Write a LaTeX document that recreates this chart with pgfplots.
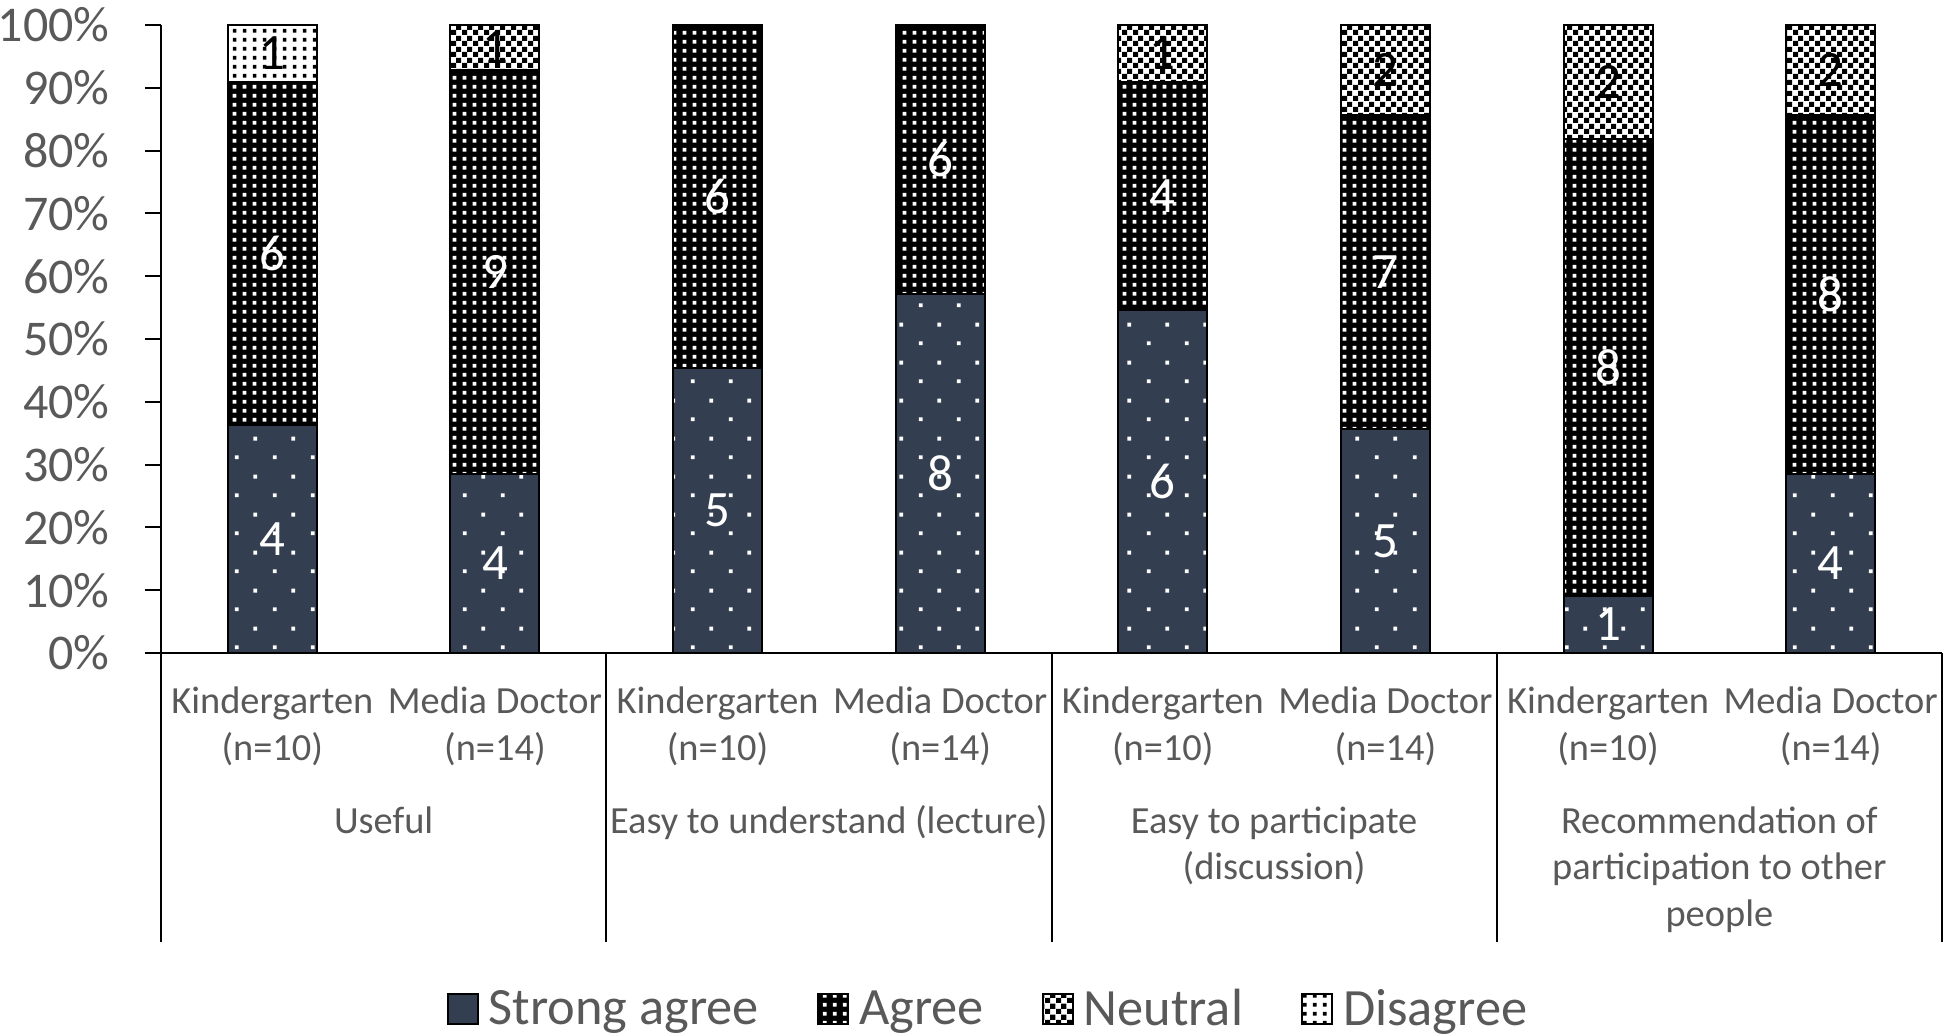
\documentclass[border=0pt]{standalone}
\usepackage{pgfplots}
\pgfplotsset{compat=1.18}
\usepackage{fontspec}
\setmainfont{Carlito}
\usetikzlibrary{patterns.meta}
\definecolor{navy}{HTML}{333F50}
\definecolor{txt}{HTML}{595959}

\tikzdeclarepattern{
  name=sadots, type=uncolored,
  bounding box={(0bp,0bp) and (19bp,19bp)},
  tile size={(19bp,19bp)},
  code={
    \pgfpathrectangle{\pgfpoint{3.5bp}{3.5bp}}{\pgfpoint{2bp}{2bp}}
    \pgfpathrectangle{\pgfpoint{13bp}{13bp}}{\pgfpoint{2bp}{2bp}}
    \pgfusepath{fill}
  }
}
\tikzdeclarepattern{
  name=griddots, type=uncolored,
  bounding box={(0bp,0bp) and (5bp,4.6bp)},
  tile size={(5bp,4.6bp)},
  code={
    \pgfpathrectangle{\pgfpoint{1.5bp}{1.3bp}}{\pgfpoint{2bp}{2bp}}
    \pgfusepath{fill}
  }
}
\tikzdeclarepattern{
  name=checker, type=uncolored,
  bounding box={(0bp,0bp) and (5.5bp,5.5bp)},
  tile size={(5.5bp,5.5bp)},
  code={
    \pgfpathrectangle{\pgfpoint{0bp}{0bp}}{\pgfpoint{2.75bp}{2.75bp}}
    \pgfpathrectangle{\pgfpoint{2.75bp}{2.75bp}}{\pgfpoint{2.75bp}{2.75bp}}
    \pgfusepath{fill}
  }
}

\pgfplotsset{
  base/.style={width=890.5bp, height=314bp, scale only axis,
    xmin=-0.5, xmax=7.5, ymin=0, ymax=100, at={(0,0)}, anchor=south west}
}

\begin{document}
\begin{tikzpicture}
\path[use as bounding box] (-80.5bp,-191.5bp) rectangle (895.5bp,326.5bp);
\begin{axis}[base, ybar stacked, bar width=0.4,
  axis x line*=bottom, axis y line*=left,
  axis line style={line width=1bp, black},
  ytick={0,10,...,100},
  yticklabels={0\%,10\%,20\%,30\%,40\%,50\%,60\%,70\%,80\%,90\%,100\%},
  tick align=outside, major tick length=8bp,
  ytick style={line width=1bp, black},
  xtick={0,...,7},
  xtick style={draw=none},
  xticklabels={{Kindergarten\\(n=10)},{Media Doctor\\(n=14)},{Kindergarten\\(n=10)},{Media Doctor\\(n=14)},{Kindergarten\\(n=10)},{Media Doctor\\(n=14)},{Kindergarten\\(n=10)},{Media Doctor\\(n=14)}},
  yticklabel style={font=\fontsize{25bp}{30bp}\selectfont, text=txt, inner sep=0pt, xshift=-17.5bp},
  xticklabel style={font=\fontsize{19.2bp}{23.5bp}\selectfont, text=txt, align=center, inner sep=0pt, anchor=north, yshift=-8.5bp},
  legend style={at={(0.4638,-0.5669)}, anchor=center, draw=none, fill=none,
    font=\fontsize{26.2bp}{30bp}\selectfont, text=txt, inner sep=0pt,
    nodes={inner sep=0pt},
    /tikz/every odd column/.append style={column sep=5bp},
    /tikz/every even column/.append style={column sep=29bp}},
  legend columns=4,
  legend cell align=left,
  legend image code/.code={\draw[#1, line width=1bp] (0bp,-7.5bp) rectangle (15bp,7.5bp);},
  every axis plot/.append style={draw=black, line width=1bp},
  clip=false,
]
\addplot[fill=navy, postaction={pattern=sadots, pattern color=white}] coordinates
  {(0,36.36) (1,28.57) (2,45.45) (3,57.14) (4,54.55) (5,35.71) (6,9.09) (7,28.57)};
\addplot[fill=black, postaction={pattern=griddots, pattern color=white}] coordinates
  {(0,54.55) (1,64.29) (2,54.55) (3,42.86) (4,36.36) (5,50.00) (6,72.73) (7,57.14)};
\addplot[fill=white, postaction={pattern=checker, pattern color=black}] coordinates
  {(0,0) (1,7.14) (2,0) (3,0) (4,9.09) (5,14.29) (6,18.18) (7,14.29)};
\addplot[fill=white, postaction={pattern=griddots, pattern color=black}] coordinates
  {(0,9.09) (1,0) (2,0) (3,0) (4,0) (5,0) (6,0) (7,0)};
\legend{Strong agree, Agree, Neutral, Disagree}

\draw[line width=1bp] (axis cs:-0.5,0) -- ([yshift=-144.5bp]axis cs:-0.5,0);
\draw[line width=1bp] (axis cs:1.5,0) -- ([yshift=-144.5bp]axis cs:1.5,0);
\draw[line width=1bp] (axis cs:3.5,0) -- ([yshift=-144.5bp]axis cs:3.5,0);
\draw[line width=1bp] (axis cs:5.5,0) -- ([yshift=-144.5bp]axis cs:5.5,0);
\draw[line width=1bp] (axis cs:7.5,0) -- ([yshift=-144.5bp]axis cs:7.5,0);

\tikzset{grp/.style={anchor=base, align=center, font=\fontsize{19.2bp}{23.3bp}\selectfont, text=txt, inner sep=0pt}}
\node[grp] at ([yshift=-90bp]axis cs:0.5,0) {Useful};
\node[grp] at ([yshift=-90bp]axis cs:2.5,0) {Easy to understand (lecture)};
\node[grp] at ([yshift=-113.3bp]axis cs:4.5,0) {Easy to participate\\(discussion)};
\node[grp] at ([yshift=-136.6bp]axis cs:6.5,0) {Recommendation of\\participation to other\\people};
\end{axis}

\begin{axis}[base, hide axis, nodes near coords, point meta=explicit symbolic,
  nodes near coords style={anchor=center, inner sep=0pt, font=\fontsize{25.5bp}{30bp}\selectfont}]
\addplot[draw=none, mark=none, nodes near coords style={text=white}] coordinates {
  (0,18.18)[4] (1,14.29)[4] (2,22.73)[5] (3,28.57)[8] (4,27.27)[6] (5,17.86)[5] (6,4.55)[1] (7,14.29)[4]
  (0,63.64)[6] (1,60.71)[9] (2,72.73)[6] (3,78.57)[6] (4,72.73)[4] (5,60.71)[7] (6,45.45)[8] (7,57.14)[8]};
\addplot[draw=none, mark=none, nodes near coords style={text=black}] coordinates {
  (0,95.45)[1] (1,96.43)[1] (4,95.45)[1] (5,92.86)[2] (6,90.91)[2] (7,92.86)[2]};
\end{axis}
\end{tikzpicture}
\end{document}
